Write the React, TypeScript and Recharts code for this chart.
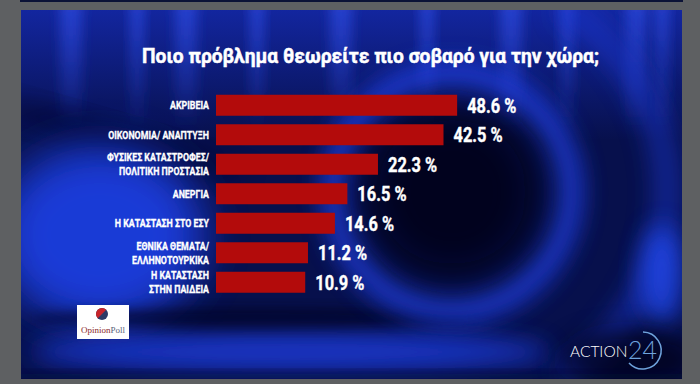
import React from "react";
import { BarChart, Bar, XAxis, YAxis, LabelList } from "recharts";

const titleText = "Ποιο πρόβλημα θεωρείτε πιο σοβαρό για την χώρα;";
const categories = [
  "ΑΚΡΙΒΕΙΑ",
  "ΟΙΚΟΝΟΜΙΑ/ ΑΝΑΠΤΥΞΗ",
  "ΦΥΣΙΚΕΣ ΚΑΤΑΣΤΡΟΦΕΣ/\nΠΟΛΙΤΙΚΗ ΠΡΟΣΤΑΣΙΑ",
  "ΑΝΕΡΓΙΑ",
  "Η ΚΑΤΑΣΤΑΣΗ ΣΤΟ ΕΣΥ",
  "ΕΘΝΙΚΑ ΘΕΜΑΤΑ/\nΕΛΛΗΝΟΤΟΥΡΚΙΚΑ",
  "Η ΚΑΤΑΣΤΑΣΗ\nΣΤΗΝ ΠΑΙΔΕΙΑ",
];
const values = [48.6, 42.5, 22.3, 16.5, 14.6, 11.2, 10.9];
const valueSuffix = " %";
const xDomain: [number, number] = [4.53, 120];

const data = categories.map((name, i) => ({ name, value: values[i] }));

const FONT = "Roboto, 'Noto Sans', sans-serif";
const SQUEEZE = 0.8;

const CatTick = (props: any) => {
  const { x, y, payload } = props;
  const lines = String(payload.value).split("\n");
  const lh = 14;
  const y0 = y - ((lines.length - 1) * lh) / 2 + 3.8;
  return (
    <g transform={`translate(${x},${y0}) scale(0.84,1)`}>
      <text
        x={0}
        y={0}
        textAnchor="end"
        fill="#ffffff"
        stroke="#ffffff"
        strokeWidth={0.3}
        fontSize={10.5}
        fontWeight={700}
        fontFamily={FONT}
      >
        {lines.map((l, i) => (
          <tspan key={i} x={0} y={i * lh}>
            {l}
          </tspan>
        ))}
      </text>
    </g>
  );
};

const ValueLabel = (props: any) => {
  const { x, y, width, height, value } = props;
  const tx = x + width + 10;
  const ty = y + height / 2 + 7.3;
  return (
    <g transform={`translate(${tx},${ty}) scale(${SQUEEZE},1)`}>
      <text x={0} y={0} fill="#ffffff" stroke="#ffffff" strokeWidth={0.4} fontSize={20.5} fontWeight={700} fontFamily={FONT} textAnchor="start">
        {Number(value).toFixed(1) + valueSuffix}
      </text>
    </g>
  );
};

const Background = () => (
  <svg width={700} height={384} style={{ position: "absolute", left: 0, top: 0 }}>
    <defs>
      <clipPath id="panel">
        <rect x={21} y={10} width={661} height={369} />
      </clipPath>
      <filter id="b6" x="-50%" y="-50%" width="200%" height="200%">
        <feGaussianBlur stdDeviation="6" />
      </filter>
      <filter id="b12" x="-50%" y="-50%" width="200%" height="200%">
        <feGaussianBlur stdDeviation="12" />
      </filter>
      <filter id="b22" x="-50%" y="-50%" width="200%" height="200%">
        <feGaussianBlur stdDeviation="22" />
      </filter>
      <linearGradient id="topFade" x1="0" y1="0" x2="0" y2="1">
        <stop offset="0" stopColor="#1428a8" stopOpacity="0.9" />
        <stop offset="1" stopColor="#1428a8" stopOpacity="0" />
      </linearGradient>
      <linearGradient id="streak" x1="0" y1="0" x2="0" y2="1">
        <stop offset="0" stopColor="#2a46d8" stopOpacity="0.85" />
        <stop offset="1" stopColor="#2a46d8" stopOpacity="0" />
      </linearGradient>
    </defs>
    <rect x={0} y={0} width={700} height={384} fill="#5e6062" />
    <rect x={20} y={0} width={663} height={2} fill="#0b1236" />
    <g clipPath="url(#panel)">
      <rect x={21} y={10} width={661} height={369} fill="#07104c" />
      <rect x={21} y={10} width={661} height={130} fill="url(#topFade)" />
      {[60, 130, 175, 250, 330, 420, 500, 560, 625, 655].map((sx, i) => (
        <rect key={i} x={sx} y={0} width={i % 2 ? 14 : 22} height={130} fill="url(#streak)" filter="url(#b6)" />
      ))}
      <ellipse cx={120} cy={140} rx={130} ry={14} fill="#020620" opacity={0.55} transform="rotate(16 120 140)" filter="url(#b12)" />
      <ellipse cx={100} cy={235} rx={105} ry={90} fill="#1e3fe6" opacity={0.9} filter="url(#b22)" />
      <ellipse cx={290} cy={352} rx={260} ry={20} fill="#1c3ad8" opacity={0.85} filter="url(#b12)" />
      <ellipse cx={250} cy={318} rx={220} ry={10} fill="#02061e" opacity={0.6} filter="url(#b6)" />
      <circle cx={452} cy={192} r={118} fill="none" stroke="#2042ee" strokeWidth={24} opacity={0.85} filter="url(#b12)" />
      <circle cx={452} cy={192} r={88} fill="#020418" opacity={0.85} filter="url(#b22)" />
      <path d="M 560 6 A 215 215 0 0 1 560 378" fill="none" stroke="#1b38d2" strokeWidth={26} opacity={0.55} filter="url(#b12)" />
      <ellipse cx={662} cy={275} rx={22} ry={50} fill="#2448f0" opacity={0.8} filter="url(#b12)" />
      <ellipse cx={630} cy={360} rx={70} ry={30} fill="#020418" opacity={0.7} filter="url(#b12)" />
      <rect x={21} y={372} width={661} height={8} fill="#040a30" opacity={0.6} filter="url(#b6)" />
    </g>
    <text
      x={370.5}
      y={63}
      textAnchor="middle"
      fill="#ffffff"
      stroke="#ffffff"
      strokeWidth={0.5}
      fontSize={21}
      fontWeight={700}
      fontFamily={FONT}
      textLength={457}
      lengthAdjust="spacingAndGlyphs"
    >
      {titleText}
    </text>
  </svg>
);

const Logos = () => (
  <svg width={700} height={384} style={{ position: "absolute", left: 0, top: 0 }}>
    <defs>
      <clipPath id="dot">
        <circle cx={102} cy={314} r={6} />
      </clipPath>
    </defs>
    <rect x={77} y={305} width={52} height={34} fill="#ffffff" />
    <g clipPath="url(#dot)">
      <rect x={94} y={306} width={16} height={16} fill="#2d3a66" />
      <path d="M 94 306 L 110 306 L 94 322 Z" fill="#c8242a" />
    </g>
    <text x={103} y={333} textAnchor="middle" fontSize={9} fontFamily="'Liberation Serif', 'DejaVu Serif', serif">
      <tspan fill="#8a2a2a">Opinion</tspan>
      <tspan fill="#5a5f78">Poll</tspan>
    </text>
    <text x={570} y={357} fill="#ffffff" fontSize={15.5} fontWeight={300} fontFamily="Lato, 'Open Sans', sans-serif">
      ACTION
    </text>
    <text x={628} y={359} fill="#6fa3dc" fontSize={25} fontWeight={300} fontFamily="Lato, 'Open Sans', sans-serif">
      24
    </text>
    <path d="M 643 332 A 18.5 18.5 0 1 1 629 363" fill="none" stroke="#6fa3dc" strokeWidth={1.5} />
  </svg>
);

export default function App() {
  return (
    <div style={{ position: "absolute", left: 0, top: 0, width: 700, height: 384, overflow: "hidden" }}>
      <Background />
      <div style={{ position: "absolute", left: 0, top: 0 }}>
        <BarChart
          width={700}
          height={384}
          data={data}
          layout="vertical"
          margin={{ top: 90.75, right: 151, bottom: 86.75, left: 0 }}
        >
          <XAxis type="number" scale="log" domain={xDomain} allowDataOverflow hide />
          <YAxis
            type="category"
            dataKey="name"
            width={216}
            axisLine={false}
            tickLine={false}
            tickSize={0}
            tickMargin={7}
            interval={0}
            tick={<CatTick />}
          />
          <Bar dataKey="value" fill="#b30b0b" barSize={21} isAnimationActive={false}>
            <LabelList dataKey="value" content={<ValueLabel />} />
          </Bar>
        </BarChart>
      </div>
      <Logos />
    </div>
  );
}
